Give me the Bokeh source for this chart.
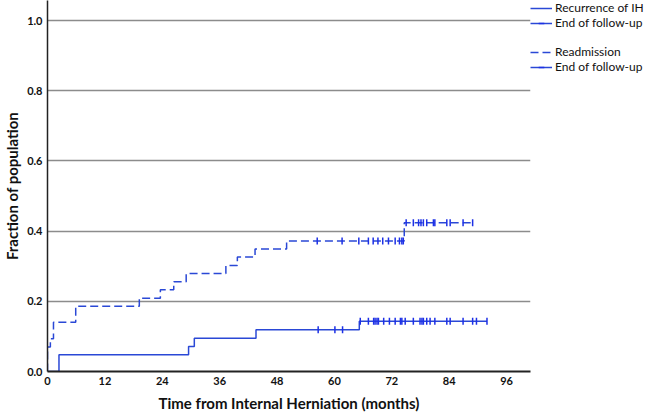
import numpy as np
from bokeh.plotting import figure
from bokeh.models import (FixedTicker, Legend, LegendItem, Range1d,
                          PrintfTickFormatter)
from bokeh.embed import file_html
from bokeh.resources import INLINE

# ---- data ----
x_ticks = [0, 12, 24, 36, 48, 60, 72, 84, 96]
y_ticks = [0.0, 0.2, 0.4, 0.6, 0.8, 1.0]

# Recurrence of IH (solid)
recur_time = [0, 2.4, 29.5, 30.7, 43.6, 65.2, 91.9]
recur_frac = [0.0, 0.048, 0.071, 0.095, 0.119, 0.143, 0.143]
recur_cens = [56.6, 60.1, 61.7, 65.4, 67.1, 68.2, 68.5, 68.9, 69.2, 70.3,
              71.5, 72.7, 73.8, 74.1, 74.8, 76.5, 77.9, 78.3, 78.6, 79.3,
              80.0, 81.0, 83.5, 84.2, 86.9, 88.9, 89.7, 91.9]

# Readmission (dashed)
readm_time = [0, 0, 0.6, 1.25, 5.9, 19.2, 23.6, 26.4, 29.0, 37.3, 39.7,
              43.4, 50.0, 74.6, 88.9]
readm_frac = [0.0, 0.070, 0.093, 0.140, 0.186, 0.209, 0.233, 0.256, 0.279,
              0.302, 0.326, 0.349, 0.372, 0.424, 0.424]
readm_cens = [56.4, 61.6, 65.1, 67.1, 68.1, 69.1, 70.1, 71.3, 72.7, 73.6,
              74.1, 74.4, 75.0, 76.5, 77.6, 78.1, 78.6, 79.3, 80.7, 81.0,
              83.5, 84.2, 86.9, 88.9]

BLUE = "#2a48d6"
MARK = "#1d30e6"
FONT = "Lato"


def step_value(times, fracs, t):
    times = np.asarray(times)
    fracs = np.asarray(fracs)
    idx = np.searchsorted(times, np.asarray(t), side="right") - 1
    return fracs[idx]


p = figure(frame_width=483, frame_height=371, output_backend="svg",
           toolbar_location=None,
           x_range=Range1d(0, 101), y_range=Range1d(0, 1.057),
           min_border_top=0, min_border_left=0, min_border_right=0,
           min_border_bottom=0)
p.outline_line_color = None
p.background_fill_color = "white"
p.border_fill_color = "white"

# curves
r_recur = p.step(recur_time, recur_frac, mode="after", line_color=BLUE,
                 line_width=1.5)
r_readm = p.step(readm_time, readm_frac, mode="after", line_color=BLUE,
                 line_width=1.5, line_dash="8 4")
r_blank = p.step(recur_time, recur_frac, mode="after", line_alpha=0)

c_recur = p.scatter(recur_cens, step_value(recur_time, recur_frac, recur_cens),
                    marker="dash", angle=np.pi / 2, size=7, line_color=MARK,
                    line_width=1.5)
c_readm = p.scatter(readm_cens, step_value(readm_time, readm_frac, readm_cens),
                    marker="dash", angle=np.pi / 2, size=7, line_color=MARK,
                    line_width=1.5)

# axes
p.xaxis.ticker = FixedTicker(ticks=x_ticks)
p.yaxis.ticker = FixedTicker(ticks=y_ticks)
p.yaxis.formatter = PrintfTickFormatter(format="%.1f")
p.xaxis.axis_label = "Time from Internal Herniation (months)"
p.yaxis.axis_label = "Fraction of population"
for ax in (p.xaxis, p.yaxis):
    ax.major_tick_in = 0
    ax.major_tick_out = 0
    ax.minor_tick_in = 0
    ax.minor_tick_out = 0
    ax.axis_label_text_font = FONT
    ax.axis_label_text_font_style = "bold"
    ax.axis_label_text_font_size = "15px"
    ax.axis_label_text_color = "#111111"
    ax.major_label_text_font = FONT
    ax.major_label_text_font_style = "bold"
    ax.major_label_text_font_size = "11px"
    ax.major_label_text_color = "#111111"
    ax.axis_line_color = "#222222"
p.xaxis.axis_line_width = 2
p.yaxis.axis_line_width = 1.5
p.xaxis.major_label_standoff = 5
p.xaxis.axis_label_standoff = 6
p.yaxis.major_label_standoff = 5
p.yaxis.axis_label_standoff = 3

p.xgrid.visible = False
p.ygrid.ticker = FixedTicker(ticks=y_ticks[1:])
p.ygrid.grid_line_color = "#8c8c8c"
p.ygrid.grid_line_width = 1.5

# legend
items = [
    LegendItem(label="Recurrence of IH", renderers=[r_recur]),
    LegendItem(label="End of follow-up", renderers=[r_recur, c_recur]),
    LegendItem(label=" ", renderers=[r_blank]),
    LegendItem(label="Readmission", renderers=[r_readm]),
    LegendItem(label="End of follow-up", renderers=[r_recur, c_readm]),
]
legend = Legend(items=items, location="top_left", orientation="vertical",
                border_line_alpha=0, background_fill_alpha=0, padding=0,
                margin=0, spacing=0, glyph_width=22, glyph_height=14,
                label_height=14, label_standoff=3,
                label_text_font=FONT, label_text_font_size="12px",
                label_text_color="#111111")
p.add_layout(legend, "right")

open("out.html", "w").write(file_html(p, INLINE))
